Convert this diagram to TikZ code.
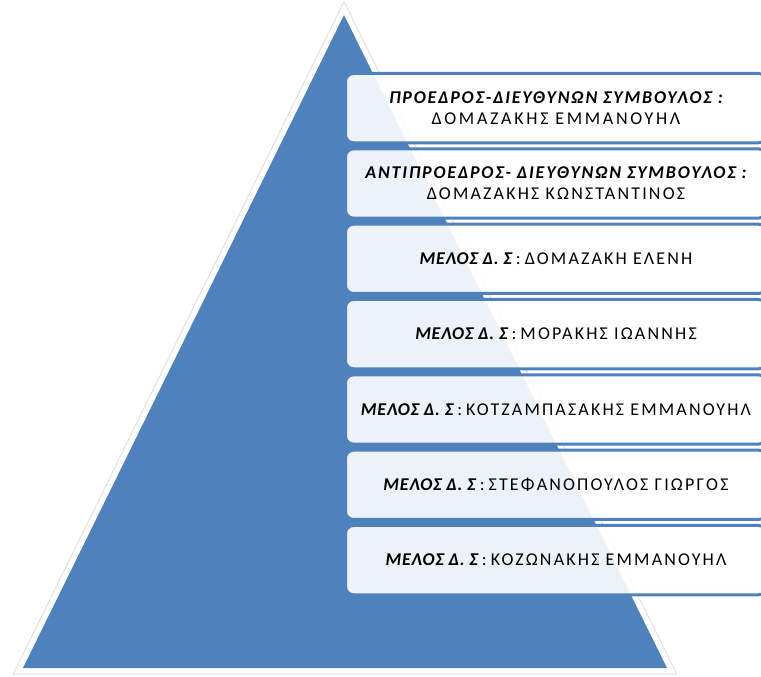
\documentclass[tikz,border=0pt]{standalone}
\usepackage{fontspec}
\setmainfont{Carlito}
\newfontfamily\namefont[LetterSpace=12]{Carlito}
\newfontfamily\namefontwide[LetterSpace=15]{Carlito}
\newfontfamily\rolefont[LetterSpace=4]{Carlito}
\newfontfamily\rolefontwide[LetterSpace=10]{Carlito}
\definecolor{pyrblue}{HTML}{4F81BD}
\newcommand\rolefmt[1]{{\rolefont\bfseries\itshape #1}}
\newcommand\rolefmtwide[1]{{\rolefontwide\bfseries\itshape #1}}
\tikzset{
  trishadow/.style={draw=black, draw opacity=0.13, line width=13, line join=miter},
  triframe/.style={draw=white, line width=11, line join=miter},
  trifill/.style={fill=pyrblue},
  listbox/.style={draw=pyrblue, line width=3, fill=white, fill opacity=0.9, text opacity=1,
    rounded corners=8, minimum width=421, minimum height=69.3, align=center, inner sep=0,
    text=black, font=\fontsize{18}{21}\selectfont},
}
\begin{document}
\begin{tikzpicture}[x=1pt,y=-1pt]
  \clip (0,0) rectangle (761,677);
  \fill[white] (0,0) rectangle (761,677);
  \coordinate (apex) at (344,15);
  \coordinate (bl) at (23,668);
  \coordinate (br) at (667,668);
  \draw[trishadow, shift={(0.5,2)}] (apex) -- (bl) -- (br) -- cycle;
  \draw[triframe] (apex) -- (bl) -- (br) -- cycle;
  \fill[trifill] (apex) -- (bl) -- (br) -- cycle;

  \node[listbox] (b1) at (556,108.15) {\rolefmtwide{ΠΡΟΕΔΡΟΣ-ΔΙΕΥΘΥΝΩΝ ΣΥΜΒΟΥΛΟΣ :}\\{\namefontwide ΔΟΜΑΖΑΚΗΣ ΕΜΜΑΝΟΥΗΛ}};
  \node[listbox] (b2) at (556,183.48) {\rolefmtwide{ΑΝΤΙΠΡΟΕΔΡΟΣ- ΔΙΕΥΘΥΝΩΝ ΣΥΜΒΟΥΛΟΣ :}\\{\namefont ΔΟΜΑΖΑΚΗΣ ΚΩΝΣΤΑΝΤΙΝΟΣ}};
  \node[listbox] (b3) at (556,258.81) {\rolefmt{ΜΕΛΟΣ Δ. Σ} : {\namefont ΔΟΜΑΖΑΚΗ ΕΛΕΝΗ}};
  \node[listbox] (b4) at (556,334.14) {\rolefmt{ΜΕΛΟΣ Δ. Σ} : {\namefont ΜΟΡΑΚΗΣ ΙΩΑΝΝΗΣ}};
  \node[listbox] (b5) at (556,409.47) {\rolefmt{ΜΕΛΟΣ Δ. Σ} : {\namefont ΚΟΤΖΑΜΠΑΣΑΚΗΣ ΕΜΜΑΝΟΥΗΛ}};
  \node[listbox] (b6) at (556,484.80) {\rolefmt{ΜΕΛΟΣ Δ. Σ} : {\namefont ΣΤΕΦΑΝΟΠΟΥΛΟΣ ΓΙΩΡΓΟΣ}};
  \node[listbox] (b7) at (556,560.13) {\rolefmt{ΜΕΛΟΣ Δ. Σ} : {\namefont ΚΟΖΩΝΑΚΗΣ ΕΜΜΑΝΟΥΗΛ}};
\end{tikzpicture}
\end{document}
